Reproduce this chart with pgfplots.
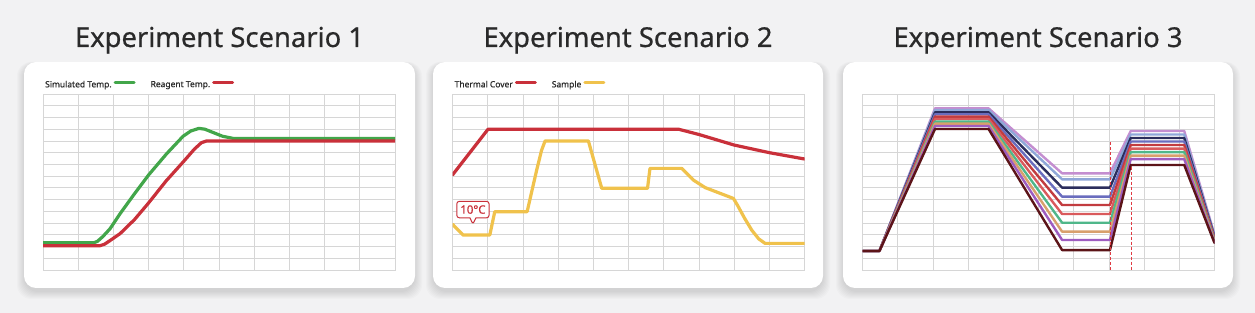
\documentclass[border=0pt]{standalone}
\usepackage{pgfplots}
\pgfplotsset{compat=1.18}
\usetikzlibrary{shapes.callouts}
\usepackage{fontspec}
\setmainfont{Noto Sans}
\newfontfamily\titlefont[FakeBold=0.6]{Noto Sans}
\newfontfamily\legfont[FakeBold=0.7]{Noto Sans}
\definecolor{bgc}{HTML}{F2F2F3}
\definecolor{gridc}{HTML}{D6D6D6}
\definecolor{txt}{HTML}{2A2A2A}
\definecolor{cgreen}{HTML}{42A64A}
\definecolor{cred}{HTML}{C9303A}
\definecolor{cyellow}{HTML}{F0C24C}
\definecolor{clav}{HTML}{C48ED0}
\definecolor{clb}{HTML}{8FA7D8}
\definecolor{cnavy}{HTML}{2B2D5C}
\definecolor{cblue}{HTML}{6A6DBE}
\definecolor{cred2}{HTML}{C23C3F}
\definecolor{cred3}{HTML}{DA5A5C}
\definecolor{cgrn}{HTML}{4FB78A}
\definecolor{ctan}{HTML}{D8A06C}
\definecolor{cpur}{HTML}{9E5CC0}
\definecolor{cmar}{HTML}{5C1418}
\definecolor{cdash}{HTML}{E03A42}
\pgfplotsset{panel/.style={scale only axis, width=352bp, height=176bp,
  xmin=0, xmax=10, ymin=0, ymax=15,
  xtick={0,...,10}, ytick={0,...,15}, xticklabels={}, yticklabels={},
  grid=major, major grid style={draw=gridc, line width=0.8bp},
  axis line style={draw=gridc, line width=0.8bp},
  major tick length=0pt, anchor=south west,
  legend style={draw=none, fill=none, at={(0,1)}, anchor=south west, yshift=3bp,
    inner sep=0pt, font=\legfont\fontsize{8.5}{10}\selectfont\color{txt},
    /tikz/every even column/.append style={column sep=13bp}},
  legend columns=-1, legend plot pos=right,
  legend image code/.code={\draw[##1, line width=3bp] (0bp,2.5bp) -- (19bp,2.5bp);},
  every axis plot/.append style={line join=round, line cap=round}}}
\begin{document}
\begin{tikzpicture}
\useasboundingbox (0,0) rectangle (1255bp,313bp);
\fill[bgc] (0,0) rectangle (1255bp,313bp);
\foreach \x/\X in {24/415,433/823,843/1233}{
  \foreach \i in {0,...,7}{
    \fill[black, opacity=0.016, rounded corners=14bp] (\x bp-\i bp,21bp-\i bp) rectangle (\X bp+\i bp,249bp+0.3*\i bp);
  }
  \fill[white, rounded corners=12bp] (\x bp,25bp) rectangle (\X bp,251bp);
}
\node[anchor=base, text=txt, font=\titlefont\fontsize{27.5}{31}\selectfont] at (219.5bp,266bp) {Experiment Scenario 1};
\node[anchor=base, text=txt, font=\titlefont\fontsize{27.5}{31}\selectfont] at (628bp,266bp) {Experiment Scenario 2};
\node[anchor=base, text=txt, font=\titlefont\fontsize{27.5}{31}\selectfont] at (1038bp,266bp) {Experiment Scenario 3};

% Scenario 1
\begin{axis}[panel, at={(43bp,43bp)}]
\addplot[cgreen, line width=3.2bp] coordinates {(0,2.33)(1.45,2.33)(1.55,2.45)(1.7,2.85)(1.9,3.5)(2.19,4.8)(2.6,6.5)(3.0,8.1)(3.51,9.9)(3.98,11.4)(4.2,11.85)(4.43,12.07)(4.6,12.0)(4.85,11.7)(5.1,11.4)(5.4,11.22)(10,11.22)};
\addlegendentry{Simulated Temp.}
\addplot[cred, line width=3.2bp] coordinates {(0,2.07)(1.62,2.07)(1.75,2.2)(1.9,2.5)(2.19,3.1)(2.6,4.3)(2.99,5.68)(3.5,7.6)(3.98,9.2)(4.3,10.3)(4.5,10.85)(4.65,11.0)(10,11.0)};
\addlegendentry{Reagent Temp.}
\end{axis}

% Scenario 2
\begin{axis}[panel, at={(452.5bp,43bp)}]
\addplot[cred, line width=3.2bp] coordinates {(0,8.1)(1.01,12.0)(6.42,12.0)(7.0,11.55)(8.0,10.65)(9.0,10.0)(10,9.46)};
\addlegendentry{Thermal Cover}
\addplot[cyellow, line width=3.2bp] coordinates {(0,3.9)(0.3,2.98)(1.06,2.98)(1.2,4.97)(2.12,4.97)(2.39,8.5)(2.53,10.2)(2.63,11.0)(3.86,11.0)(4.24,6.96)(5.54,6.96)(5.61,8.66)(6.51,8.66)(6.84,7.67)(7.18,7.02)(7.98,6.1)(8.1,5.5)(8.3,4.4)(8.5,3.4)(8.7,2.65)(8.88,2.27)(10,2.27)};
\addlegendentry{Sample}
\node[rectangle callout, draw=cred, fill=white, line width=1bp, rounded corners=2.5bp,
  text=cred, font=\legfont\fontsize{11.5}{12}\selectfont, inner xsep=3.5bp, inner ysep=4bp,
  callout pointer width=6bp, callout absolute pointer={(axis cs:0.58,3.9)}]
  at (axis cs:0.58,5.15) {10°C};
\end{axis}

% Scenario 3
\begin{axis}[panel, at={(862.5bp,43bp)}]
\addplot[clav, line width=2.4bp] coordinates {(0,1.62)(0.48,1.62)(2.06,13.78)(3.58,13.78)(5.67,8.24)(7.03,8.24)(7.62,11.85)(9.14,11.85)(10,3.0)};
\addplot[clb, line width=2.4bp] coordinates {(0,1.62)(0.48,1.62)(2.06,13.64)(3.58,13.64)(5.67,7.73)(7.03,7.73)(7.62,11.55)(9.14,11.55)(10,2.92)};
\addplot[cnavy, line width=2.4bp] coordinates {(0,1.62)(0.48,1.62)(2.06,13.44)(3.58,13.44)(5.67,7.02)(7.03,7.02)(7.62,11.25)(9.14,11.25)(10,2.84)};
\addplot[cblue, line width=2.4bp] coordinates {(0,1.62)(0.48,1.62)(2.06,13.27)(3.58,13.27)(5.67,6.25)(7.03,6.25)(7.62,10.95)(9.14,10.95)(10,2.76)};
\addplot[cred2, line width=2.4bp] coordinates {(0,1.62)(0.48,1.62)(2.06,13.07)(3.58,13.07)(5.67,5.54)(7.03,5.54)(7.62,10.65)(9.14,10.65)(10,2.68)};
\addplot[cred3, line width=2.4bp] coordinates {(0,1.62)(0.48,1.62)(2.06,12.87)(3.58,12.87)(5.67,4.77)(7.03,4.77)(7.62,10.35)(9.14,10.35)(10,2.6)};
\addplot[cgrn, line width=2.4bp] coordinates {(0,1.62)(0.48,1.62)(2.06,12.64)(3.58,12.64)(5.67,4.03)(7.03,4.03)(7.62,10.05)(9.14,10.05)(10,2.52)};
\addplot[ctan, line width=2.4bp] coordinates {(0,1.62)(0.48,1.62)(2.06,12.47)(3.58,12.47)(5.67,3.27)(7.03,3.27)(7.62,9.75)(9.14,9.75)(10,2.44)};
\addplot[cpur, line width=2.4bp] coordinates {(0,1.62)(0.48,1.62)(2.06,12.27)(3.58,12.27)(5.67,2.56)(7.03,2.56)(7.62,9.45)(9.14,9.45)(10,2.36)};
\addplot[cmar, line width=2.4bp] coordinates {(0,1.62)(0.48,1.62)(2.06,12.02)(3.58,12.02)(5.67,1.7)(7.03,1.7)(7.62,8.95)(9.14,8.95)(10,2.3)};
\addplot[cdash, line width=1.2bp, dash pattern=on 3bp off 2bp, line cap=butt] coordinates {(7.05,10.9)(7.05,0)};
\addplot[cdash, line width=1.2bp, dash pattern=on 3bp off 2bp, line cap=butt] coordinates {(7.64,8.8)(7.64,0)};
\end{axis}
\end{tikzpicture}
\end{document}
